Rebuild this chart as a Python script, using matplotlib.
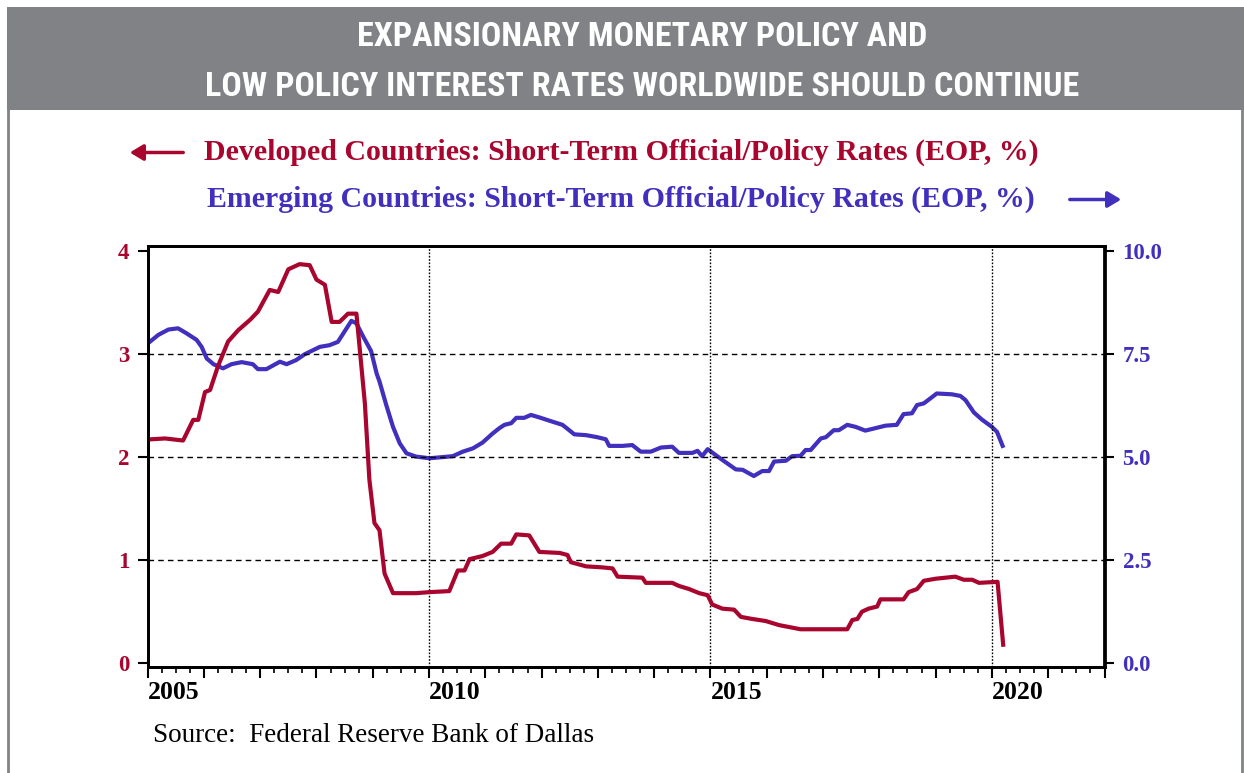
import matplotlib
matplotlib.use("Agg")
import matplotlib.pyplot as plt
from matplotlib.patches import Rectangle, FancyArrowPatch
from matplotlib.lines import Line2D
from matplotlib.ticker import MultipleLocator
from matplotlib import font_manager

# ---------------- data ----------------
TITLE_LINES = ["EXPANSIONARY MONETARY POLICY AND",
               "LOW POLICY INTEREST RATES WORLDWIDE SHOULD CONTINUE"]
DEV_LABEL = "Developed Countries: Short-Term Official/Policy Rates (EOP, %)"
EM_LABEL = "Emerging Countries: Short-Term Official/Policy Rates (EOP, %)"
SOURCE = "Source:  Federal Reserve Bank of Dallas"

dev_dates = [2005.01, 2005.31, 2005.63, 2005.81, 2005.90, 2006.02, 2006.11, 2006.25,
             2006.43, 2006.61, 2006.82, 2006.96, 2007.17, 2007.32, 2007.50, 2007.70,
             2007.88, 2008.00, 2008.15, 2008.27, 2008.41, 2008.56, 2008.71, 2008.86,
             2008.94, 2009.03, 2009.12, 2009.21, 2009.36, 2009.77, 2010.01, 2010.36,
             2010.51, 2010.63, 2010.72, 2010.95, 2011.13, 2011.28, 2011.46, 2011.55,
             2011.78, 2011.96, 2012.32, 2012.46, 2012.52, 2012.79, 2013.08, 2013.26,
             2013.35, 2013.79, 2013.85, 2014.09, 2014.32, 2014.44, 2014.62, 2014.80,
             2014.95, 2015.03, 2015.21, 2015.42, 2015.54, 2015.74, 2015.98, 2016.22,
             2016.60, 2017.43, 2017.52, 2017.61, 2017.69, 2017.81, 2017.96, 2018.02,
             2018.43, 2018.52, 2018.67, 2018.79, 2019.00, 2019.35, 2019.50, 2019.65,
             2019.77, 2020.10, 2020.20]
dev_rates = [2.17, 2.18, 2.16, 2.36, 2.36, 2.63, 2.65, 2.88,
             3.12, 3.23, 3.33, 3.41, 3.62, 3.60, 3.82, 3.87,
             3.86, 3.72, 3.67, 3.31, 3.31, 3.39, 3.39, 2.52,
             1.78, 1.36, 1.29, 0.87, 0.68, 0.68, 0.69, 0.70,
             0.90, 0.90, 1.01, 1.04, 1.08, 1.16, 1.16, 1.25,
             1.24, 1.08, 1.07, 1.05, 0.98, 0.94, 0.93, 0.92,
             0.84, 0.83, 0.78, 0.78, 0.78, 0.75, 0.72, 0.68,
             0.66, 0.57, 0.53, 0.52, 0.45, 0.43, 0.41, 0.37,
             0.33, 0.33, 0.42, 0.43, 0.50, 0.53, 0.55, 0.62,
             0.62, 0.69, 0.72, 0.80, 0.82, 0.84, 0.81, 0.81,
             0.78, 0.79, 0.18]

em_dates = [2005.01, 2005.19, 2005.37, 2005.54, 2005.69, 2005.87, 2005.96, 2006.05,
            2006.17, 2006.34, 2006.49, 2006.67, 2006.87, 2006.96, 2007.11, 2007.35,
            2007.47, 2007.64, 2007.79, 2007.88, 2008.06, 2008.23, 2008.38, 2008.62,
            2008.71, 2008.83, 2008.97, 2009.07, 2009.12, 2009.24, 2009.36, 2009.48,
            2009.60, 2009.77, 2010.01, 2010.42, 2010.60, 2010.78, 2010.95, 2011.13,
            2011.25, 2011.34, 2011.46, 2011.55, 2011.69, 2011.81, 2011.96, 2012.14,
            2012.37, 2012.49, 2012.58, 2012.79, 2012.99, 2013.14, 2013.20, 2013.44,
            2013.61, 2013.76, 2013.94, 2014.12, 2014.32, 2014.44, 2014.68, 2014.77,
            2014.85, 2014.95, 2015.09, 2015.21, 2015.45, 2015.57, 2015.77, 2015.92,
            2016.04, 2016.13, 2016.34, 2016.45, 2016.60, 2016.69, 2016.78, 2016.96,
            2017.05, 2017.19, 2017.28, 2017.43, 2017.58, 2017.75, 2017.93, 2018.11,
            2018.31, 2018.43, 2018.58, 2018.67, 2018.79, 2019.02, 2019.29, 2019.44,
            2019.53, 2019.68, 2019.82, 2020.00, 2020.09, 2020.19]
em_rates = [7.76, 7.96, 8.09, 8.12, 8.00, 7.84, 7.67, 7.39,
            7.25, 7.15, 7.25, 7.30, 7.25, 7.13, 7.13, 7.31,
            7.25, 7.35, 7.49, 7.55, 7.67, 7.71, 7.79, 8.30,
            8.24, 7.92, 7.57, 7.02, 6.83, 6.26, 5.73, 5.33,
            5.09, 5.01, 4.97, 5.02, 5.13, 5.21, 5.35, 5.57,
            5.70, 5.78, 5.82, 5.95, 5.95, 6.02, 5.96, 5.88,
            5.78, 5.65, 5.55, 5.53, 5.48, 5.43, 5.27, 5.27,
            5.29, 5.13, 5.13, 5.23, 5.25, 5.10, 5.10, 5.15,
            5.02, 5.19, 5.05, 4.93, 4.70, 4.69, 4.54, 4.66,
            4.66, 4.89, 4.91, 5.02, 5.03, 5.17, 5.17, 5.45,
            5.48, 5.65, 5.65, 5.78, 5.73, 5.64, 5.70, 5.76,
            5.78, 6.04, 6.06, 6.26, 6.30, 6.54, 6.52, 6.48,
            6.38, 6.08, 5.91, 5.73, 5.61, 5.27]

year_ticks = list(range(2005, 2023))
year_labels = [str(y) if y in (2005, 2010, 2015, 2020) else "" for y in year_ticks]
left_ticks = [0, 1, 2, 3, 4]
left_labels = ["0", "1", "2", "3", "4"]
right_ticks = [0, 2.5, 5, 7.5, 10]
right_labels = ["0.0", "2.5", "5.0", "7.5", "10.0"]
grid_years = [2010, 2015, 2020]

# ---------------- style ----------------
RED = "#A8062E"
BLUE = "#4130BE"
GRAY = "#808285"
SERIF = ["Liberation Serif", "DejaVu Serif"]
W, H = 1244, 773

installed = {f.name for f in font_manager.fontManager.ttflist}
condensed = [n for n in ["Roboto Condensed", "Open Sans Condensed", "Liberation Sans Narrow",
                         "DejaVu Sans Condensed"] if n in installed]
if condensed:
    TITLE_FAMILY = [condensed[0], "DejaVu Sans"]
    TITLE_SIZE = 24.5
    TITLE_STRETCH = "normal"
else:
    TITLE_FAMILY = ["DejaVu Sans"]
    TITLE_SIZE = 19
    TITLE_STRETCH = "condensed"


def fx(px):
    return px / W


def fy(py):
    return 1 - py / H


fig = plt.figure(figsize=(W / 100, H / 100), dpi=100)
fig.patch.set_facecolor("white")

# title band and frame
fig.add_artist(Rectangle((fx(7), fy(110)), fx(1244) - fx(7), fy(7) - fy(110),
                         transform=fig.transFigure, facecolor=GRAY, edgecolor="none"))
fig.add_artist(Line2D([fx(8), fx(8)], [fy(110), fy(773)], transform=fig.transFigure,
                      color=GRAY, lw=2))
fig.add_artist(Line2D([fx(1242), fx(1242)], [fy(110), fy(773)], transform=fig.transFigure,
                      color=GRAY, lw=2))
for line, ypx in zip(TITLE_LINES, [37, 87]):
    fig.text(fx(642), fy(ypx), line, ha="center", va="center", color="white",
             fontsize=TITLE_SIZE, fontweight="bold", fontstretch=TITLE_STRETCH,
             family=TITLE_FAMILY)

# legend-like labels with arrows
fig.text(fx(204), fy(152), DEV_LABEL, ha="left", va="center", color=RED,
         fontsize=21.5, fontweight="bold", family=SERIF)
fig.text(fx(207), fy(199), EM_LABEL, ha="left", va="center", color=BLUE,
         fontsize=21.5, fontweight="bold", family=SERIF)
fig.add_artist(FancyArrowPatch((fx(186), fy(152.5)), (fx(127), fy(152.5)),
                               transform=fig.transFigure,
                               arrowstyle="-|>,head_length=5,head_width=3",
                               color=RED, lw=2.5, mutation_scale=1.6))
fig.add_artist(FancyArrowPatch((fx(1067), fy(199.5)), (fx(1124), fy(199.5)),
                               transform=fig.transFigure,
                               arrowstyle="-|>,head_length=5,head_width=3",
                               color=BLUE, lw=2.5, mutation_scale=1.6))

fig.text(fx(153), fy(735), SOURCE, ha="left", va="center", color="black",
         fontsize=19.5, family=SERIF)

# axes
left, right, top, bottom = 147.6, 1104.5, 246, 666.7
ax = fig.add_axes([fx(left), fy(bottom), fx(right) - fx(left), fy(top) - fy(bottom)])
ax2 = ax.twinx()
ax.set_zorder(ax2.get_zorder() + 1)
ax.patch.set_visible(False)

ax2.plot(em_dates, em_rates, color=BLUE, lw=3.0, solid_joinstyle="round")
ax.plot(dev_dates, dev_rates, color=RED, lw=3.0, solid_joinstyle="round")

ax.set_xlim(2005, 2022)
ax.set_ylim(-0.033, 4.046)
ax2.set_ylim(-0.0825, 10.115)

for y in [1, 2, 3]:
    ax.axhline(y, color="black", lw=1.0, ls=(0, (4, 3)), zorder=0)
for x in grid_years:
    ax.axvline(x, color="black", lw=1.0, ls=(0, (1.2, 1.2)), zorder=0)

ax.set_xticks(year_ticks, year_labels)
ax.xaxis.set_minor_locator(MultipleLocator(0.25))
for lbl in ax.get_xticklabels():
    lbl.set_ha("left")
    lbl.set_fontfamily(SERIF)
    lbl.set_fontweight("bold")
    lbl.set_fontsize(18.5)
ax.tick_params(axis="x", which="major", direction="out", length=8, width=1.5, pad=2)
ax.tick_params(axis="x", which="minor", direction="out", length=4, width=1.2)

ax.set_yticks(left_ticks, left_labels)
for lbl in ax.get_yticklabels():
    lbl.set_fontfamily(SERIF)
    lbl.set_fontweight("bold")
    lbl.set_fontsize(16.5)
ax.tick_params(axis="y", direction="out", length=7, width=1.5, pad=6, labelcolor=RED)

ax2.set_yticks(right_ticks, right_labels)
for lbl in ax2.get_yticklabels():
    lbl.set_fontfamily(SERIF)
    lbl.set_fontweight("bold")
    lbl.set_fontsize(16.5)
ax2.tick_params(axis="y", direction="out", length=7, width=1.5, pad=6, labelcolor=BLUE)

for a in (ax, ax2):
    for s in a.spines.values():
        s.set_linewidth(2.0)
        s.set_color("black")

fig.savefig("out.png", dpi=100, facecolor="white")
